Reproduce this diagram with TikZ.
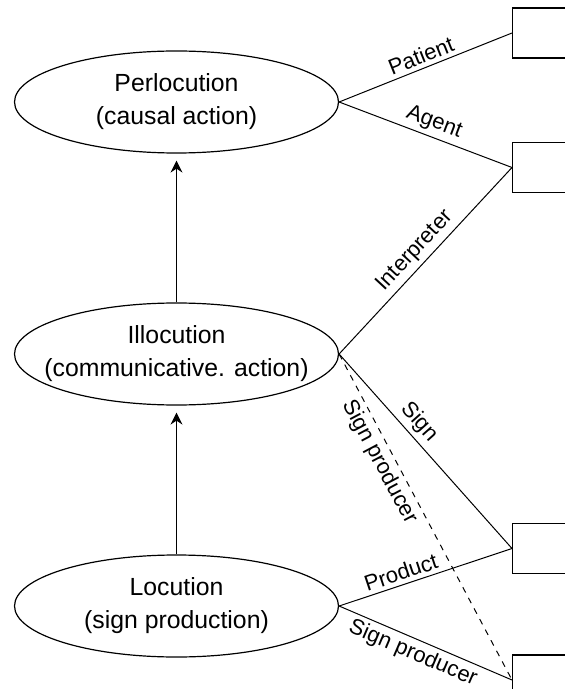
\documentclass[tikz,border=0pt]{standalone}
\usepackage{fontspec}
\setmainfont{Liberation Sans}
\usetikzlibrary{arrows.meta, shapes.geometric}

\begin{document}
\begin{tikzpicture}[x=0.5pt, y=-0.5pt]
		\tikzset{act/.style = {shape=ellipse, draw, line width=0.6pt, inner sep=0pt, minimum width=162pt, minimum height=51pt, align=center, font=\fontsize{12.4}{16.5}\selectfont}}
		\tikzset{role/.style = {shape=rectangle, draw, line width=0.6pt, anchor=west, minimum width=60pt, minimum height=25pt}}
		\tikzset{edge/.style = {line width=0.5pt}}
		\tikzset{lbl/.style = {font=\fontsize{11}{13}\selectfont, sloped, inner sep=2pt}}
		\tikzset{upto/.style = {-{Stealth[length=6pt, width=6pt, inset=2pt]}, line width=0.6pt, shorten >=3.5pt}}

		\clip (0,0) rectangle (565,689);
		\useasboundingbox (0,0) rectangle (565,689);

		\node[act] (P) at (176.5,102) {\makebox[0pt]{Perlocution}\\\makebox[0pt]{(causal action)}};
		\node[act] (I) at (176.5,354) {\makebox[0pt]{Illocution}\\\makebox[0pt]{(communicative. action)}};
		\node[act] (L) at (176.5,606) {\makebox[0pt]{Locution}\\\makebox[0pt]{(sign production)}};

		\node[role] (R1) at (512,33) {};
		\node[role] (R2) at (512,167.5) {};
		\node[role] (R3) at (512,548.5) {};
		\node[role] (R4) at (512,680) {};

		\draw[upto] (I) to (P);
		\draw[upto] (L) to (I);

		\draw[edge] (P.east) to node[lbl, above, pos=0.5] {Patient} (R1.west);
		\draw[edge] (P.east) to node[lbl, above, pos=0.52] {Agent} (R2.west);
		\draw[edge] (I.east) to node[lbl, above, pos=0.5] {Interpreter} (R2.west);
		\draw[edge] (I.east) to node[lbl, above, pos=0.4] {Sign} (R3.west);
		\draw[edge, dashed] (I.east) to node[lbl, below, pos=0.31] {Sign producer} (R4.west);
		\draw[edge] (L.east) to node[lbl, above, pos=0.38] {Product} (R3.west);
		\draw[edge] (L.east) to node[lbl, below, pos=0.46] {Sign producer} (R4.west);
	\end{tikzpicture}
\end{document}
